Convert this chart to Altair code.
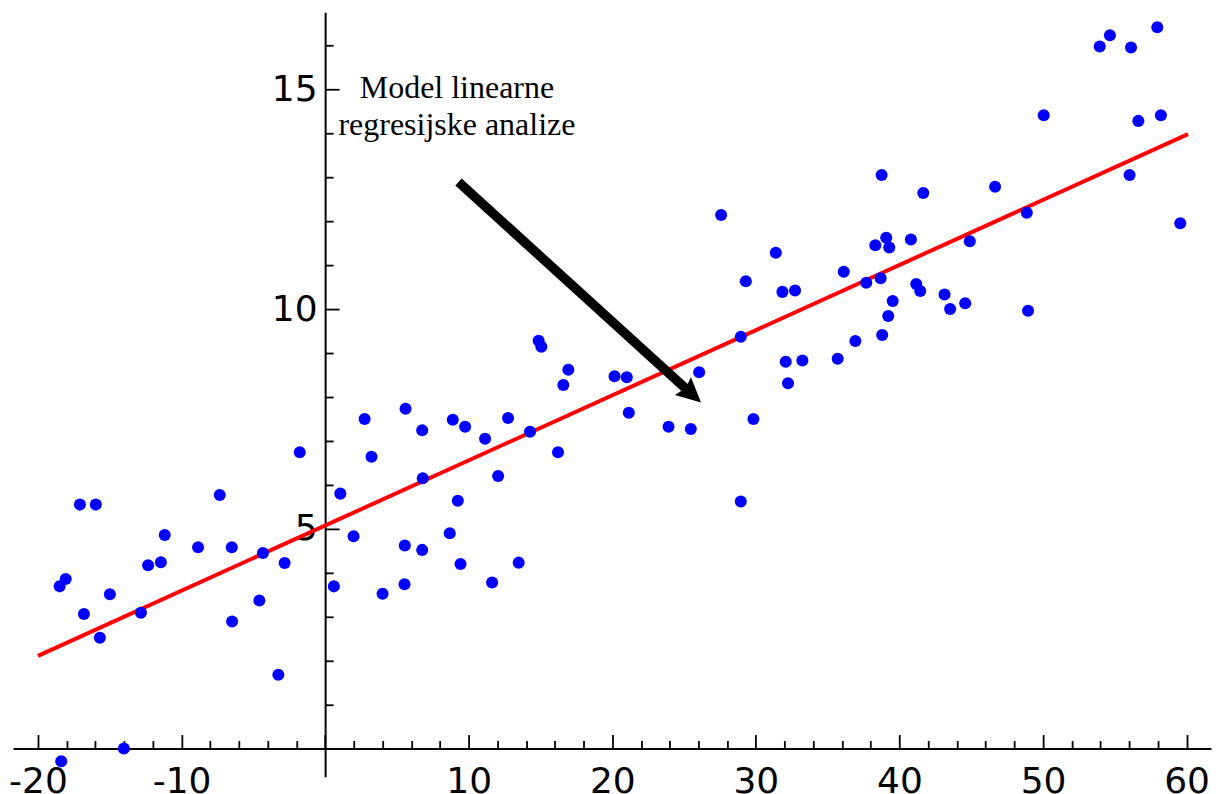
import altair as alt
import pandas as pd

# ---- data ----
pt_x = [-1.77, -17.08, -15.97, -7.34, -11.17, -8.85, -6.50, -4.33, -2.82, -12.33,
        -11.44, -18.07, -18.49, -14.99, -16.80, -12.83, -4.58, -6.48, -15.69, -3.26,
        -14.02, -18.38,
        0.61, 1.06, 1.98, 2.75, 3.23, 4.00, 5.53, 5.55, 5.60, 6.76,
        6.76, 6.80, 8.68, 8.89, 9.24, 9.43, 9.75, 11.14, 11.63, 12.05,
        12.74, 13.48, 14.27, 14.87, 15.06, 16.22, 16.59, 16.94, 20.16, 21.01,
        21.15,
        23.92, 25.47, 26.05, 27.58, 28.95, 28.95, 29.30, 29.83, 31.39, 31.85,
        32.73, 32.24, 32.08, 33.24, 35.70, 36.12, 36.93, 37.69, 38.32, 38.76,
        39.08, 39.29, 38.69, 38.80, 39.22, 39.53,
        41.66, 40.80, 41.17, 41.45, 43.14, 43.53, 44.58, 44.90, 46.66, 48.87,
        48.96, 50.05, 53.95, 54.66, 56.13, 57.96, 56.03, 56.64, 58.21, 59.56]
pt_y = [6.74, 5.55, 5.55, 5.77, 4.86, 4.58, 4.58, 4.45, 4.22, 4.17,
        4.24, 3.86, 3.69, 3.51, 3.06, 3.09, 3.37, 2.89, 2.52, 1.68,
        0.00, -0.29,
        3.69, 5.80, 4.83, 7.50, 6.64, 3.52, 3.74, 4.62, 7.73, 4.52,
        7.24, 6.15, 4.90, 7.48, 5.64, 4.20, 7.32, 7.05, 3.78, 6.20,
        7.52, 4.23, 7.21, 9.28, 9.14, 6.74, 8.27, 8.62, 8.47, 8.45,
        7.64,
        7.32, 7.27, 8.56, 12.14, 5.62, 9.37, 10.63, 7.50, 11.28, 10.39,
        10.42, 8.31, 8.80, 8.83, 8.87, 10.85, 9.27, 10.60, 11.45, 13.05,
        11.62, 11.40, 10.70, 9.41, 9.84, 10.18,
        12.64, 11.58, 10.57, 10.41, 10.33, 10.00, 10.13, 11.54, 12.78, 12.19,
        9.96, 14.41, 15.97, 16.23, 15.95, 16.41, 13.05, 14.28, 14.41, 11.95]

fit_x = [-20, 60.1]
fit_y = [2.11, 13.98]

note_lines = ["Model linearne", "regresijske analize"]
note_x = [9.18, 9.18]
note_y = [14.80, 13.95]

arrow_x = [9.29, 25.55]
arrow_y = [12.89, 8.06]
head_x = [25.55]
head_y = [8.06]

x_major = [-20, -10, 0, 10, 20, 30, 40, 50, 60]
x_minor = [v for v in range(-20, 61, 2) if v % 10 != 0]
x_labels = [-20, -10, 10, 20, 30, 40, 50, 60]
y_major = [5, 10, 15]
y_minor = [v for v in range(1, 17) if v % 5 != 0]

x_dom = [-21.74, 61.7]
y_dom = [-0.64, 16.75]
W, H = 1199, 765

# axes positions (where x=0 and y=0 fall)
x0_px = (0 - x_dom[0]) / (x_dom[1] - x_dom[0]) * W
y0_px = (0 - y_dom[0]) / (y_dom[1] - y_dom[0]) * H   # from bottom

pts = pd.DataFrame({"x": pt_x, "y": pt_y})
fit = pd.DataFrame({"x": fit_x, "y": fit_y})
note = pd.DataFrame({"x": note_x, "y": note_y, "t": note_lines})
arrow = pd.DataFrame({"x": [arrow_x[0]], "y": [arrow_y[0]], "x2": [arrow_x[1]], "y2": [arrow_y[1]]})
head = pd.DataFrame({"x": head_x, "y": head_y})

xs = alt.Scale(domain=x_dom, nice=False, zero=False)
ys = alt.Scale(domain=y_dom, nice=False, zero=False)

common_lbl = dict(labelFont="DejaVu Sans", labelFontSize=36, labelColor="black",
                  grid=False, ticks=False, domain=False, labelFlush=False,
                  labelOverlap=False, labelBound=False, title="")

ax_x_lbl = alt.Axis(orient="bottom", offset=-y0_px, values=x_labels,
                    labelPadding=16, labelExpr="'' + datum.value", **common_lbl)
ax_y_lbl = alt.Axis(orient="left", offset=-x0_px, values=y_major,
                    labelPadding=8, labelExpr="'' + datum.value", **common_lbl)

common_tick = dict(labels=False, grid=False, tickColor="black", tickWidth=1.8, title="")
ax_x_major = alt.Axis(orient="top", offset=-(H - y0_px), values=x_major, tickSize=14,
                      domain=True, domainColor="black", domainWidth=2, **common_tick)
ax_x_minor = alt.Axis(orient="top", offset=-(H - y0_px), values=x_minor, tickSize=8,
                      domain=False, **common_tick)
ax_y_major = alt.Axis(orient="right", offset=-(W - x0_px), values=y_major, tickSize=14,
                      domain=True, domainColor="black", domainWidth=2, **common_tick)
ax_y_minor = alt.Axis(orient="right", offset=-(W - x0_px), values=y_minor, tickSize=8,
                      domain=False, **common_tick)

line = alt.Chart(fit).mark_line(color="#ff0000", strokeWidth=4).encode(
    x=alt.X("x:Q", scale=xs, axis=ax_x_lbl),
    y=alt.Y("y:Q", scale=ys, axis=ax_y_lbl),
)

dots = alt.Chart(pts).mark_circle(color="#0000ff", opacity=1, size=145).encode(
    x=alt.X("x:Q", scale=xs, axis=ax_x_major),
    y=alt.Y("y:Q", scale=ys, axis=ax_y_major),
)

shaft = alt.Chart(arrow).mark_rule(color="black", strokeWidth=9.5, strokeCap="butt").encode(
    x=alt.X("x:Q", scale=xs, axis=ax_x_minor),
    y=alt.Y("y:Q", scale=ys, axis=ax_y_minor),
    x2="x2:Q",
    y2="y2:Q",
)

arrow_shape = "M0,-1 L0.98,1 L0,0.72 L-0.98,1 Z"
tip = alt.Chart(head).mark_point(shape=arrow_shape, size=600, filled=True, color="black",
                                 opacity=1, angle=132.2, strokeWidth=0).encode(
    x=alt.X("x:Q", scale=xs, axis=None),
    y=alt.Y("y:Q", scale=ys, axis=None),
)

txt = alt.Chart(note).mark_text(font="Liberation Serif", fontSize=32, color="black",
                                align="center", baseline="alphabetic").encode(
    x=alt.X("x:Q", scale=xs, axis=None),
    y=alt.Y("y:Q", scale=ys, axis=None),
    text="t:N",
)

chart = alt.layer(line, dots, shaft, tip, txt).resolve_axis(
    x="independent", y="independent"
).properties(
    width=W, height=H,
    autosize=alt.AutoSizeParams(type="none"),
    padding={"left": 5, "top": 4, "right": 5, "bottom": 17},
    background="white",
).configure_view(strokeWidth=0)

chart.save("out.html", embed_options={"renderer": "svg", "actions": False})
